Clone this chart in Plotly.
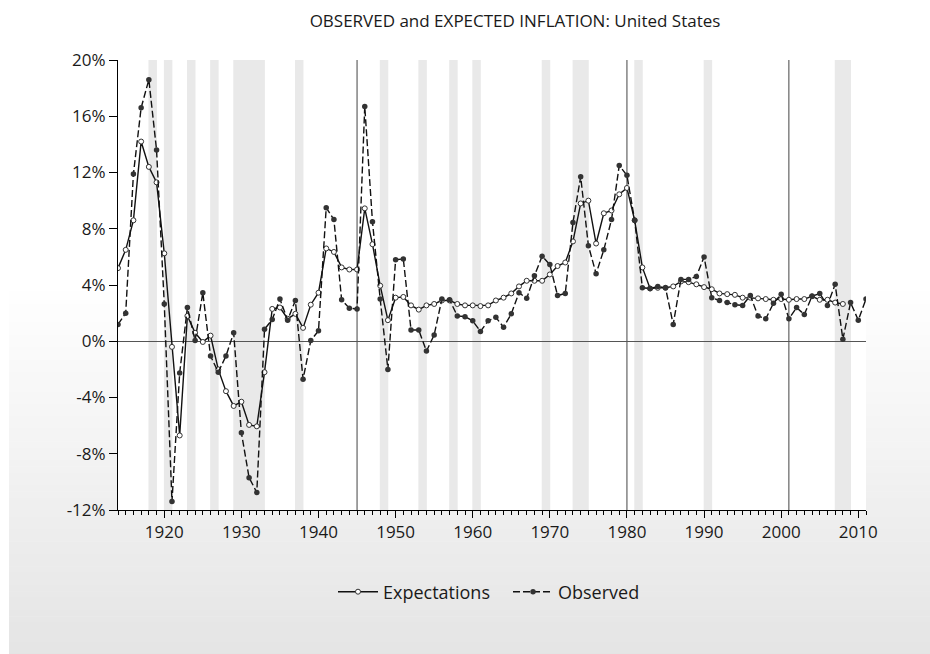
import plotly.graph_objects as go

# ---------------- data ----------------
exp_years = list(range(1914, 2009))
expectations = [
    5.2, 6.5, 8.6, 14.2, 12.4, 11.3, 6.25, -0.4, -6.7, 1.8,
    0.6, -0.05, 0.4, -2.0, -3.55, -4.6, -4.3, -5.95, -6.05, -2.2,
    2.3, 2.4, 1.6, 1.95, 0.95, 2.6, 3.45, 6.6, 6.35, 5.25,
    5.1, 5.1, 9.45, 6.9, 3.95, 1.5, 3.1, 3.15, 2.55, 2.25,
    2.55, 2.65, 2.9, 2.9, 2.65, 2.55, 2.55, 2.5, 2.55, 2.9,
    3.1, 3.4, 3.9, 4.3, 4.3, 4.3, 4.75, 5.35, 5.6, 7.1,
    9.8, 10.0, 6.95, 9.1, 9.3, 10.45, 10.9, 8.6, 5.25, 3.75,
    3.8, 3.8, 3.9, 4.25, 4.2, 4.05, 3.85, 3.7, 3.4, 3.35,
    3.3, 3.1, 3.1, 3.05, 3.0, 2.95, 3.0, 2.95, 3.0, 3.0,
    3.2, 2.95, 2.95, 2.75, 2.65,
]

obs_years = list(range(1914, 2012))
observed = [
    1.2, 2.0, 11.9, 16.6, 18.6, 13.6, 2.65, -11.4, -2.25, 2.4,
    0.05, 3.45, -1.05, -2.2, -1.05, 0.6, -6.5, -9.7, -10.75, 0.85,
    1.55, 3.0, 1.5, 2.9, -2.7, 0.05, 0.75, 9.5, 8.65, 2.95,
    2.35, 2.3, 16.7, 8.5, 3.0, -2.0, 5.8, 5.85, 0.8, 0.8,
    -0.7, 0.45, 3.0, 2.95, 1.8, 1.75, 1.45, 0.7, 1.45, 1.7,
    1.0, 1.95, 3.45, 3.05, 4.65, 6.05, 5.45, 3.25, 3.4, 8.45,
    11.7, 6.8, 4.8, 6.5, 8.65, 12.5, 11.8, 8.6, 3.8, 3.75,
    3.9, 3.8, 1.2, 4.4, 4.4, 4.6, 6.0, 3.1, 2.9, 2.75,
    2.6, 2.55, 3.25, 1.8, 1.6, 2.7, 3.35, 1.6, 2.4, 1.9,
    3.2, 3.4, 2.55, 4.05, 0.15, 2.75, 1.5, 3.0,
]

# recession periods (annual) shaded; single-year ones drawn as lines
recession_spans = [(1918, 1919), (1920, 1921), (1923, 1924), (1926, 1927),
                   (1929, 1933), (1937, 1938), (1948, 1949), (1953, 1954),
                   (1957, 1958), (1960, 1961), (1969, 1970), (1973, 1975),
                   (1981, 1982), (1990, 1991), (2007, 2009)]
recession_lines = [1945, 1980, 2001]

y_ticks = [-12, -8, -4, 0, 4, 8, 12, 16, 20]
y_labels = [f"{v}%" for v in y_ticks]

# ---------------- layout geometry ----------------
W, H = 930, 654
L, T = 118, 60
pw, ph = 748, 450
R = W - L - pw
B = H - T - ph

def px_to_paper_x(px):
    return (px - L) / pw

def px_to_paper_y(py):
    return (T + ph - py) / ph

shapes = []
# background gradient panel (white -> light grey)
g_top, g_bot = 285, 660
n = 60
for i in range(n):
    y0 = g_top + (g_bot - g_top) * i / n
    y1 = g_top + (g_bot - g_top) * (i + 1) / n + 0.6
    c = int(round(255 - (255 - 228) * (i + 0.5) / n))
    shapes.append(dict(type="rect", xref="paper", yref="paper", layer="below",
                       x0=px_to_paper_x(9), x1=px_to_paper_x(945),
                       y0=px_to_paper_y(y1), y1=px_to_paper_y(y0),
                       fillcolor=f"rgb({c},{c},{c})", line=dict(width=0)))
# white plot area
shapes.append(dict(type="rect", xref="paper", yref="paper", layer="below",
                   x0=0, x1=1, y0=0, y1=1, fillcolor="white", line=dict(width=0)))
# recession bands
for a, b in recession_spans:
    shapes.append(dict(type="rect", xref="x", yref="paper", layer="below",
                       x0=a - 0.05, x1=b + 0.05, y0=0, y1=1,
                       fillcolor="#e9e9e9", line=dict(width=0)))
for yr in recession_lines:
    shapes.append(dict(type="line", xref="x", yref="paper", layer="below",
                       x0=yr, x1=yr, y0=0, y1=1,
                       line=dict(color="#444444", width=1)))

FONT = "Open Sans"

fig = go.Figure()
fig.add_trace(go.Scatter(
    x=exp_years, y=expectations, name="Expectations", mode="lines+markers",
    line=dict(color="#111111", width=1.4),
    marker=dict(symbol="circle", size=5, color="white",
                line=dict(color="#333333", width=1)),
))
fig.add_trace(go.Scatter(
    x=obs_years, y=observed, name="Observed", mode="lines+markers",
    line=dict(color="#111111", width=1.4, dash="7px,3px"),
    marker=dict(symbol="circle", size=5.5, color="#333333"),
))

fig.update_layout(
    width=W, height=H,
    margin=dict(l=L, r=R, t=T, b=B, pad=0),
    paper_bgcolor="white", plot_bgcolor="white",
    shapes=shapes,
    title=dict(text="OBSERVED and EXPECTED INFLATION: United States",
               x=515 / W, xanchor="center", y=1 - 21 / H, yanchor="middle",
               xref="container", yref="container",
               font=dict(family=FONT, size=17, color="#1a1a1a")),
    font=dict(family=FONT, size=17, color="#1a1a1a"),
    showlegend=True,
    legend=dict(orientation="h", x=px_to_paper_x(333), xanchor="left",
                y=px_to_paper_y(592), yanchor="middle",
                bgcolor="rgba(0,0,0,0)", font=dict(family=FONT, size=18),
                itemwidth=40, entrywidth=120, entrywidthmode="pixels"),
    xaxis=dict(range=[1914, 2011], tickmode="linear", tick0=1920, dtick=10,
               ticks="outside", ticklen=7, tickcolor="black", tickwidth=1,
               showline=True, linecolor="black", linewidth=1,
               showgrid=False, zeroline=False,
               minor=dict(tickmode="linear", tick0=1914, dtick=1, ticks="outside",
                          ticklen=4, tickcolor="black", showgrid=False),
               tickfont=dict(family=FONT, size=17)),
    yaxis=dict(range=[-12, 20], tickmode="array", tickvals=y_ticks, ticktext=y_labels,
               ticks="outside", ticklen=8, tickcolor="black",
               showline=True, linecolor="black", linewidth=1,
               showgrid=False, zeroline=True, zerolinecolor="#555555", zerolinewidth=1,
               tickfont=dict(family=FONT, size=17)),
)

fig.write_html(
    "out.html",
    config={"displayModeBar": False},
    post_script="document.body.style.margin='0px';document.body.style.overflow='hidden';",
)
